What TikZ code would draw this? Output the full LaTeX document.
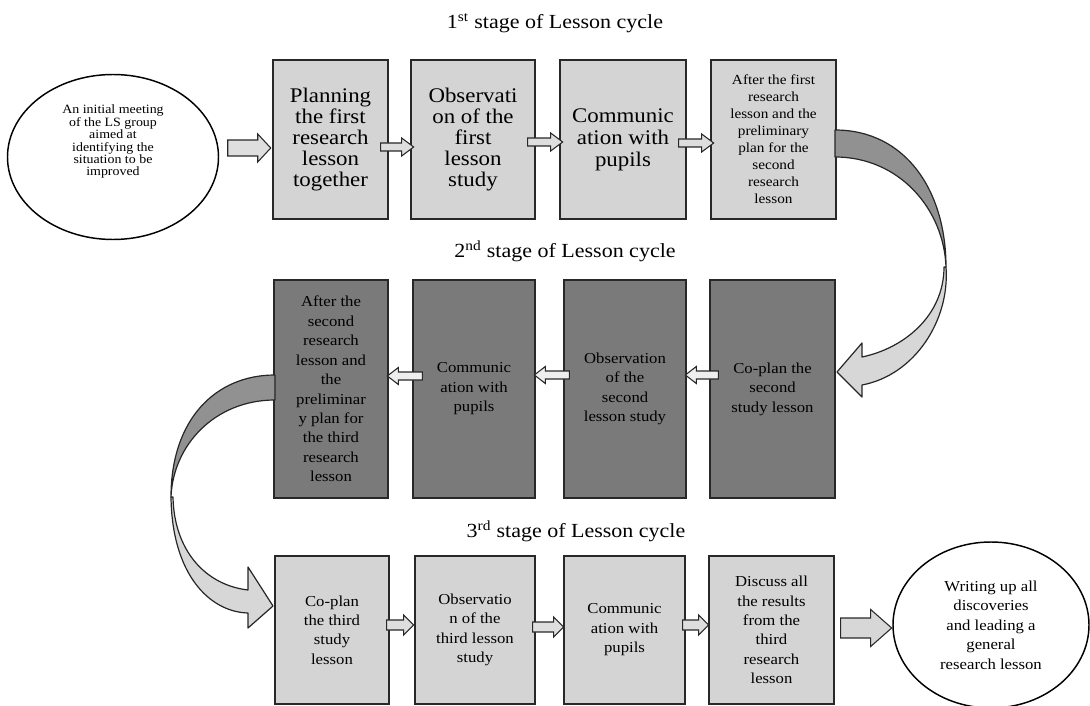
\documentclass[tikz,border=0pt]{standalone}
\usepackage{fontspec}
\setmainfont{Liberation Serif}[FakeStretch=1.1]
\usetikzlibrary{shapes.geometric,calc}
\definecolor{lightbox}{RGB}{212,212,212}
\definecolor{darkbox}{RGB}{122,122,122}
\definecolor{edge}{RGB}{40,40,40}
\definecolor{ribdark}{RGB}{145,145,145}
\definecolor{riblight}{RGB}{215,215,215}
\definecolor{arrlight}{RGB}{222,222,222}
\definecolor{arrwhite}{RGB}{238,238,238}
\newcommand\fbig{\fontsize{15.6}{15.6}\selectfont}
\newcommand\fbigb{\fontsize{15.6}{16.5}\selectfont}
\newcommand\fmid{\fontsize{11.4}{14.6}\selectfont}
\newcommand\fsm{\fontsize{10.4}{12.75}\selectfont}
\newcommand\fell{\fontsize{9.5}{8.9}\selectfont}
\newcommand\ftitle{\fontsize{15}{18}\selectfont}
\tikzset{
  sz/.style 2 args={minimum width=0.75pt*#1, minimum height=0.75pt*#2},
  lbox/.style={draw=edge, line width=1pt, fill=lightbox, rectangle, inner sep=0pt, align=center},
  dbox/.style={draw=edge, line width=1pt, fill=darkbox, rectangle, inner sep=0pt, align=center},
  oval/.style={draw=black, line width=1.1pt, fill=white, ellipse, inner sep=0pt, align=center},
  blk/.style={draw=edge, line width=0.8pt, fill=arrlight},
  blkw/.style={draw=edge, line width=0.8pt, fill=arrwhite},
  rib/.style={draw=black!85, line width=0.9pt, line join=round},
  pics/barrow/.style n args={4}{code={%
    \path[pic actions] (0,{-#2}) -- ({#1-#4},{-#2}) -- ({#1-#4},{-#3}) -- (#1,0)
      -- ({#1-#4},{#3}) -- ({#1-#4},{#2}) -- (0,{#2}) -- cycle;}},
}
\begin{document}
\begin{tikzpicture}[x=0.75pt,y=-0.75pt]
\useasboundingbox[fill=white] (0,0) rectangle (1090,706);

% titles
\node[font=\ftitle] (t1) at (555,23) {1\textsuperscript{st} stage of Lesson cycle};
\node[font=\ftitle] (t2) at (565,251) {2\textsuperscript{nd} stage of Lesson cycle};
\node[font=\ftitle] (t3) at (576,531) {3\textsuperscript{rd} stage of Lesson cycle};

% row 1
\node[oval, sz={211}{165}, font=\fell] (e1) at (113,157)
  {\raisebox{11pt}[\height][\depth]{\begin{tabular}{@{}c@{}}An initial meeting\\of the LS group\\aimed at\\identifying the\\situation to be\\improved\end{tabular}}};
\node[lbox, sz={115}{159}, font=\fbig] (b11) at (330.5,139.5) {Planning\\the first\\research\\lesson\\together};
\node[lbox, sz={124}{159}, font=\fbig] (b12) at (473,139.5) {Observati\\on of the\\first\\lesson\\study};
\node[lbox, sz={126}{159}, font=\fbigb] (b13) at (623,139.5) {Communic\\ation with\\pupils};
\node[lbox, sz={125}{159}, font=\fsm] (b14) at (773.5,139.5)
  {After the first\\research\\lesson and the\\preliminary\\plan for the\\second\\research\\lesson};

% row 2
\node[dbox, sz={114}{218}, font=\fmid] (b21) at (331,389)
  {After the\\second\\research\\lesson and\\the\\preliminar\\y plan for\\the third\\research\\lesson};
\node[dbox, sz={122}{218}, font=\fmid] (b22) at (474,389) {Communic\\ation with\\pupils};
\node[dbox, sz={122}{218}, font=\fmid] (b23) at (625,389) {Observation\\of the\\second\\lesson study};
\node[dbox, sz={125}{218}, font=\fmid] (b24) at (772.5,389) {Co-plan the\\second\\study lesson};

% row 3
\node[lbox, sz={114}{148}, font=\fmid] (b31) at (332,630) {Co-plan\\the third\\study\\lesson};
\node[lbox, sz={120}{148}, font=\fmid] (b32) at (475,630) {Observatio\\n of the\\third lesson\\study};
\node[lbox, sz={121}{148}, font=\fmid] (b33) at (624.5,630) {Communic\\ation with\\pupils};
\node[lbox, sz={125}{148}, font=\fmid] (b34) at (771.5,630)
  {Discuss all\\the results\\from the\\third\\research\\lesson};
\node[oval, sz={196}{166}, font=\fmid] (e2) at (991,625)
  {Writing up all\\discoveries\\and leading a\\general\\research lesson};

% block arrows row 1
\pic[blk] at ($(e1.east)+(8.5,-9)$) {barrow={43}{8}{14}{13}};
\pic[blk] at ($(b11.east)+(-8,7.5)$) {barrow={33}{4}{9}{12}};
\pic[blk] at ($(b12.east)+(-8,2.5)$) {barrow={35}{4}{9}{12}};
\pic[blk] at ($(b13.east)+(-8,3.5)$) {barrow={35}{4}{9}{12}};

% block arrows row 2 (pointing left)
\pic[blkw, rotate=180] at ($(b22.west)+(10,-13)$) {barrow={35}{4}{8.5}{11}};
\pic[blkw, rotate=180] at ($(b23.west)+(6,-14)$) {barrow={35}{4}{8.5}{11}};
\pic[blkw, rotate=180] at ($(b24.west)+(9,-14)$) {barrow={33}{4}{8.5}{11}};

% block arrows row 3
\pic[blk] at ($(b31.east)+(-3,-5)$) {barrow={27}{5}{10}{10}};
\pic[blk] at ($(b32.east)+(-3,-3)$) {barrow={31}{5}{10}{10}};
\pic[blk] at ($(b33.east)+(-3,-5)$) {barrow={26}{5}{10}{10}};
\pic[blk, fill=riblight] at ($(b34.east)+(6,-2)$) {barrow={51}{10}{18.5}{21}};

% curved arrow from stage 1 to stage 2
\path[rib, fill=ribdark] (835,130) .. controls (905,130) and (946,190) .. (946,267)
  .. controls (944,210) and (900,157) .. (835,157) -- cycle;
\path[rib, fill=riblight] (946,267) .. controls (950,320) and (915,375) .. (862,385)
  -- (862,397) -- (837,372) -- (862,343) -- (862,357)
  .. controls (905,348) and (944,315) .. (944,267) -- cycle;

% curved arrow from stage 2 to stage 3
\path[rib, fill=ribdark] (275,375) .. controls (215,375) and (171,420) .. (171,497)
  .. controls (173,445) and (215,400) .. (275,400) -- cycle;
\path[rib, fill=riblight] (171,497) .. controls (172,575) and (210,612) .. (248,613)
  -- (248,628) -- (273,606) -- (248,567) -- (248,590)
  .. controls (205,585) and (174,550) .. (173,497) -- cycle;
\end{tikzpicture}
\end{document}
